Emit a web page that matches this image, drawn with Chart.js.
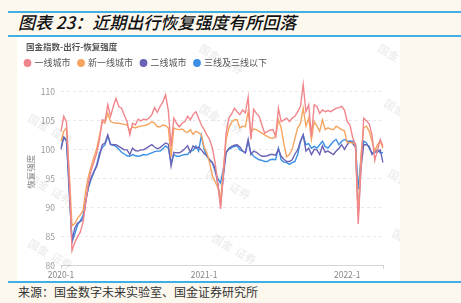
<!DOCTYPE html>
<html>
<head>
<meta charset="utf-8">
<script src="https://cdn.jsdelivr.net/npm/chart.js@4.4.1/dist/chart.umd.min.js"></script>
<style>
html, body { margin: 0; padding: 0; }
body { width: 461px; height: 303px; background: #fcf8ee; position: relative; overflow: hidden; font-family: "Noto Sans CJK SC", sans-serif; }
.rule { position: absolute; left: 8px; right: 0; height: 1.5px; background: #3fb0e4; }
#title { position: absolute; left: 18px; top: 12px; font-size: 17px; font-style: italic; font-weight: 500; color: #111; white-space: nowrap; line-height: 20px; }
#panel { position: absolute; left: 17px; top: 37px; width: 383px; height: 244px; background: #fff; }
#sub { position: absolute; left: 9px; top: 4px; font-size: 8.5px; font-weight: bold; color: #555; line-height: 10px; white-space: nowrap; }
#src { position: absolute; left: 18px; top: 284px; font-size: 12px; color: #333; line-height: 16px; white-space: nowrap; }
</style>
</head>
<body>
<div class="rule" style="top:11px"></div>
<div id="title">图表 23：近期出行恢复强度有所回落</div>
<div class="rule" style="top:35px"></div>
<div id="panel">
  <canvas id="chart" width="383" height="244"></canvas>
  <div id="sub">国金指数-出行-恢复强度</div>
</div>
<div class="rule" style="top:281px"></div>
<div id="src">来源：国金数字未来实验室、国金证券研究所</div>

<script>
// weekly categories, year-week
var years = ['2020', '2021', '2022'];
var weeksInYear = [52, 52, 14];
var tickLabels = ['2020-1', '2021-1', '2022-1'];

var seriesNames = ['一线城市', '新一线城市', '二线城市', '三线及三线以下'];

var tier1 = [
  103.2,105.8,104.8,95,82.6,84.0,85.0,85.8,87.5,91,94.5,96.5,98,99.5,101.8,105.2,105,107.8,105.8,107.5,108.9,107.5,107.2,106,104.9,102.6,104.6,104.3,105.3,105,105.3,105.2,105.5,106.1,107.3,106.5,
  107.5,108.3,109.5,106.8,100.6,105.5,104.6,104.0,104.6,104.9,105.8,105.2,106.1,106.6,105.5,104.3,
  103.5,102.6,101.8,100.3,97.8,94.1,89.8,96.0,102.9,105.5,106.2,107.2,106.6,106.1,106.9,106.4,109.1,101.8,107.0,106.3,105.8,104.3,102.9,103.2,103.4,103.5,102.3,107.2,104.9,105.2,105.5,104.9,105.5,105.8,106.6,107.5,111.3,106.6,107.8,102.3,107.8,
  107.5,106.3,106.9,106.6,106.8,106.6,106.9,107.2,107.3,107.5,106.9,104.9,
  104.3,102.1,100.9,87.2,97.0,105.5,105.0,104.5,102.6,98.2,100.0,101.8,100.6
];
var newTier1 = [
  101.5,103.2,103.8,96,86.9,87.3,88.2,88.8,89.5,93,95.5,97.2,98.8,100.3,102.5,104.9,104.6,106.3,104.9,104.7,104.6,104.6,104.5,104.4,104.3,103.4,104,103.8,104,104.1,104.2,104.3,104.5,104.9,104.6,104,
  104.0,104.3,104.2,103.8,98.8,103.8,103.6,103.5,103.6,103.2,103.0,103.5,102.7,103.2,103.0,102.6,
  100.5,99.5,97.8,95.5,94.5,93.5,91.5,96.5,101.8,103.8,104.8,105.2,105.2,103.8,104.1,104.0,106.6,103.0,103.6,103.5,103.2,102.9,102.6,102.3,102.1,102.0,102.3,105.2,103.8,101.0,98.8,99.2,100.1,102.0,103.8,104.5,107.2,104.1,105.5,101.8,104.9,
  104.1,103.2,105.2,103.5,103.8,103.6,103.5,104.1,103.8,103.5,103.3,101.2,
  101.3,101.2,101.0,88.6,99.2,103.8,104.1,103.2,101.5,99.8,100.9,101.5,100.3
];
var tier2 = [
  100.1,102.2,101.8,93,84.3,86.5,87.4,87.6,88,91,93.8,95.3,96.3,97.2,99,100.9,101.2,102.6,101,100.9,100.9,100.6,100.3,100,100,99.2,100.3,99.9,99.8,100,100,100.3,100.6,100.9,100.5,100.2,
  100.4,100.8,101.2,101.0,97.2,99.6,99.5,99.5,99.8,100.2,100.7,99.6,100.7,100.3,100.5,100.0,
  99.4,99.0,98.3,97.8,96.8,94.0,90.9,95.5,99.5,100.3,100.6,100.8,100.9,100.5,99.8,99.5,101.8,99.2,99.8,99.6,99.2,98.9,98.9,99.0,99.2,99.2,99.1,100.1,98.9,98.4,98.0,98.0,98.3,99.3,100.0,101.5,102.6,99.8,100.3,99.2,100.1,
  100.0,99.2,100.7,99.6,99.8,99.5,99.2,99.8,100.3,100.9,100.1,100.9,
  101.5,101.1,100.5,88.9,96.9,100.9,100.9,100.6,99.2,99.9,99.6,100.0,97.8
];
var tier3 = [
  100.4,102.2,101.5,93,84.1,85.5,87,87.8,88.6,91.5,93.5,95,96.2,97.5,99.5,100.4,100.9,102.4,100.9,100.8,100.6,100.1,99.6,99.3,99,98.9,99.2,99,98.9,99,99.2,99.1,99.3,99.5,99.7,99.8,
  99.8,100.2,100.7,100.3,97.8,99.2,98.9,98.9,99.1,99.2,99.2,99.8,99.9,100.7,99.8,102.5,
  100.1,98.9,98.3,97.8,96.3,95.0,94.3,96.8,99.6,100.1,100.4,100.6,100.7,100.0,99.8,99.5,101.5,99.5,98.9,98.6,98.3,98.2,98.0,98.0,98.3,98.4,98.3,100.3,98.3,97.9,97.8,97.5,97.8,98.0,99.2,101.4,102.6,100.9,101.1,100.3,100.6,
  100.3,100.9,101.5,100.6,100.3,100.9,101.5,101.8,100.9,101.5,101.8,101.5,
  101.5,101.5,101.0,93.2,98.6,101.5,101.2,100.3,99.5,99.5,100.1,99.5,99.5
];

var colors = ['#f0868c', '#f5a55f', '#6b64b5', '#3b90e6'];

var labels = [];
for (var y = 0; y < years.length; y++) {
  for (var w = 1; w <= weeksInYear[y]; w++) {
    labels.push(years[y] + '-' + w);
  }
}

function makeSet(i, values) {
  return {
    label: seriesNames[i],
    data: values,
    borderColor: colors[i],
    backgroundColor: colors[i],
    borderWidth: 1.4,
    pointRadius: 0,
    tension: 0,
    fill: false
  };
}

// faint "国金 证券" marks like the source image
var watermark = {
  id: 'watermark',
  beforeDatasetsDraw: function(chart) {
    var c = chart.ctx;
    var spots = [[12, 80], [12, 140], [12, 205], [183, 10], [183, 70], [190, 135], [196, 200], [362, 10], [368, 65], [372, 135], [376, 195]];
    c.save();
    c.fillStyle = 'rgba(0,0,0,0.07)';
    c.font = 'bold 11px "Noto Sans CJK SC"';
    spots.forEach(function(p) {
      c.save();
      c.translate(p[0], p[1]);
      c.rotate(Math.PI / 6);
      c.fillText('国金  证券', 0, 0);
      c.restore();
    });
    c.restore();
  }
};

var lastIndex = labels.length - 1;

new Chart(document.getElementById('chart'), {
  type: 'line',
  data: {
    labels: labels,
    datasets: [makeSet(0, tier1), makeSet(1, newTier1), makeSet(2, tier2), makeSet(3, tier3)]
  },
  plugins: [watermark],
  options: {
    responsive: false,
    animation: false,
    layout: { padding: { top: 13.5, left: 0, right: 17, bottom: 0 } },
    plugins: {
      title: { display: false },
      tooltip: { enabled: false },
      legend: {
        position: 'top',
        align: 'start',
        labels: {
          usePointStyle: true,
          pointStyle: 'circle',
          boxWidth: 5,
          boxHeight: 4.5,
          padding: 8,
          color: '#555',
          font: { size: 9, family: '"Noto Sans CJK SC"' }
        }
      }
    },
    scales: {
      x: {
        offset: false,
        grid: {
          drawOnChartArea: false,
          drawTicks: true,
          tickLength: 3,
          color: function(ctx) {
            return (ctx.index === 0 || ctx.index === lastIndex) ? '#cfcfcf' : 'rgba(0,0,0,0)';
          }
        },
        border: { display: true, color: '#d6d6d6' },
        ticks: {
          autoSkip: false,
          maxRotation: 0,
          padding: 1,
          color: '#888',
          font: { size: 8.5, family: '"Noto Sans CJK SC"' },
          callback: function(val, idx) {
            var l = labels[idx];
            return tickLabels.indexOf(l) >= 0 ? l : '';
          }
        }
      },
      y: {
        min: 80,
        max: 112.5,
        afterFit: function(scale) { scale.width = 44; },
        grid: { drawTicks: false, color: '#e8e8e8' },
        border: { display: false, dash: [3, 3] },
        ticks: {
          stepSize: 5,
          includeBounds: false,
          padding: 6,
          color: '#999',
          font: { size: 8.5, family: '"Noto Sans CJK SC"' }
        },
        title: {
          display: true,
          text: '恢复强度',
          color: '#888',
          padding: { top: 9, bottom: 0 },
          font: { size: 8.5, family: '"Noto Sans CJK SC"' }
        }
      }
    }
  }
});
</script>
</body>
</html>
